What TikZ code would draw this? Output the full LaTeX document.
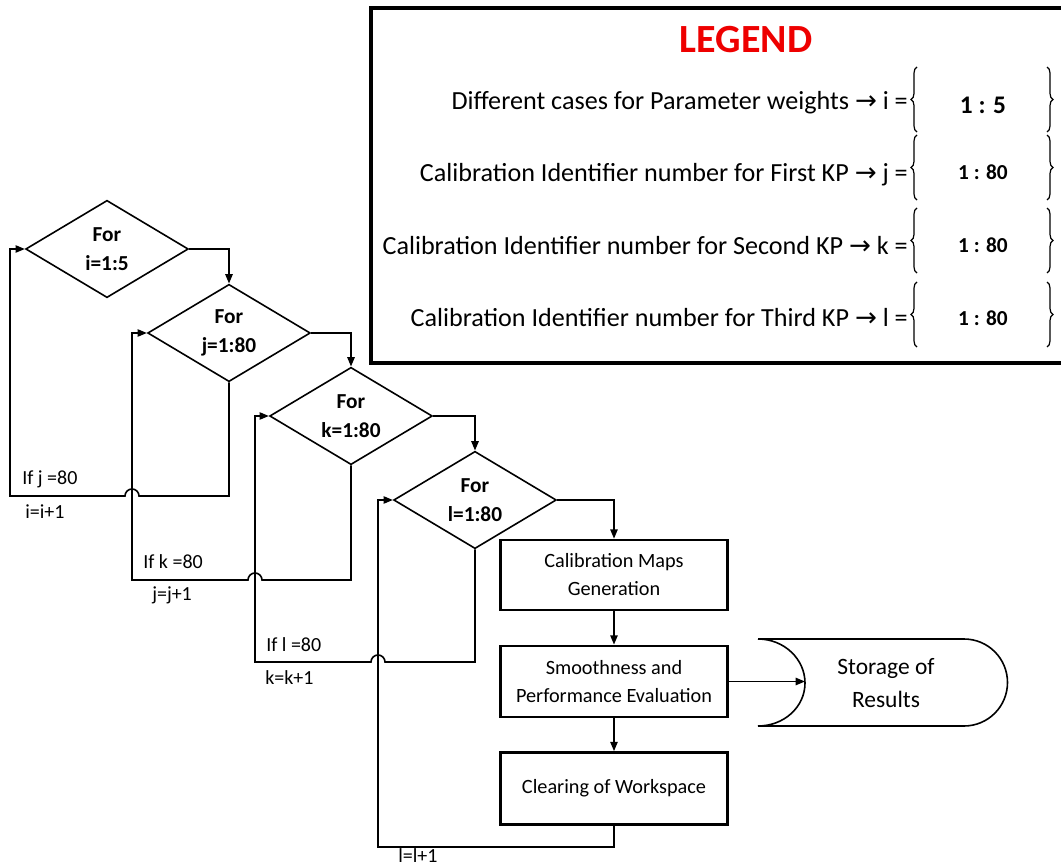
\documentclass[tikz,border=0pt]{standalone}
\usepackage{fontspec}
\setmainfont{Carlito}
\newfontfamily\arrowfont{DejaVu Sans}
\usetikzlibrary{shapes.geometric, arrows.meta, calc, decorations.pathreplacing}
\definecolor{legred}{RGB}{238,0,0}

\tikzset{
    loopbox/.style={diamond, draw, line width=1.2pt, aspect=1.68, minimum width=122pt,
        minimum height=73pt, inner sep=0pt, align=center, font=\bfseries\fontsize{16}{21.5}\selectfont},
    procbox/.style={draw, line width=2pt, minimum width=170pt, align=center,
        font=\fontsize{15.2}{21}\selectfont},
    conn/.style={line width=1.2pt},
    arr/.style={conn, -{Triangle[length=7pt,width=5.5pt]}},
    lbl/.style={anchor=west, inner sep=0pt, font=\fontsize{15}{18}\selectfont},
    legrow/.style={anchor=east, inner sep=0pt, font=\fontsize{19.6}{24}\selectfont},
    legval/.style={font=\bfseries\fontsize{16}{19}\selectfont},
    brace/.style={decorate, decoration={brace, amplitude=4.5pt}, line width=0.9pt}
}

\begin{document}
\begin{tikzpicture}[x=0.75pt, y=-0.75pt]
    \useasboundingbox (0,0) rectangle (1061,866);

    % Nested for loops
    \node[loopbox] (d1) at (107,249) {For\\i=1:5};
    \node[loopbox] (d2) at (229,333) {For\\j=1:80};
    \node[loopbox] (d3) at (351,416) {For\\k=1:80};
    \node[loopbox] (d4) at (475,500) {For\\l=1:80};

    % Body of the innermost loop
    \node[procbox, minimum height=52.5pt] (b1) at (614,575) {Calibration Maps\\Generation};
    \node[procbox, minimum height=53.3pt] (b2) at (614,681.5) {Smoothness and\\Performance Evaluation};
    \node[procbox, minimum height=54pt] (b3) at (614,788.5) {Clearing of Workspace};

    % Stored data
    \draw[conn] (758,639) -- (964,639) arc[start angle=-90, end angle=90, radius=43.5] -- (758,726)
        .. controls (784,726) and (805,707) .. (805,683)
        .. controls (805,659) and (784,639) .. (758,639);
    \coordinate (storein) at (805,683);
    \node[font=\fontsize{17.6}{25}\selectfont, align=center] (store) at (886,683) {Storage of\\Results};

    % Forward flow
    \draw[arr] (d1.east) -| (d2.north);
    \draw[arr] (d2.east) -| (d3.north);
    \draw[arr] (d3.east) -| (d4.north);
    \draw[arr] (d4.east) -| (b1.north);
    \draw[arr] (b1.south) -- (b2.north);
    \draw[arr] (b2.south) -- (b3.north);
    \draw[arr] (b2.east) -- (b2.east -| storein);

    % Return paths (hop over the crossing line)
    \coordinate (hopi) at (132,496);  \coordinate (ifoot) at (10,496);
    \coordinate (hopj) at (255,580);  \coordinate (jfoot) at (132,580);
    \coordinate (hopk) at (378,662);  \coordinate (kfoot) at (255,662);
    \coordinate (lfoot) at (378,847);
    \draw[arr] (d2.south) |- ($(hopi)+(7,0)$) arc[start angle=0, end angle=-180, radius=7] -- (ifoot) |- (d1.west);
    \draw[arr] (d3.south) |- ($(hopj)+(7,0)$) arc[start angle=0, end angle=-180, radius=7] -- (jfoot) |- (d2.west);
    \draw[arr] (d4.south) |- ($(hopk)+(7,0)$) arc[start angle=0, end angle=-180, radius=7] -- (kfoot) |- (d3.west);
    \draw[arr] (b3.south) |- (lfoot) |- (d4.west);

    \node[lbl] (ifj) at (22,479) {If j =80};
    \node[lbl] (inci) at (25,512) {i=i+1};
    \node[lbl] (ifk) at (143,562) {If k =80};
    \node[lbl] (incj) at (152,595) {j=j+1};
    \node[lbl] (ifl) at (266,645) {If l =80};
    \node[lbl] (inck) at (265,678) {k=k+1};
    \node[lbl] (incl) at (398,856) {l=l+1};

    % Legend
    \draw[line width=2.6pt] (1064,8) -| (371,363) -- (1064,363);
    \node[font=\bfseries\fontsize{30}{36}\selectfont, text=legred] (legtitle) at (746,40) {LEGEND};
    \node[legrow] (rowi) at (908,103) {Different cases for Parameter weights {\arrowfont →} i =};
    \node[legrow] (rowj) at (908,175) {Calibration Identifier number for First KP {\arrowfont →} j =};
    \node[legrow] (rowk) at (908,246) {Calibration Identifier number for Second KP {\arrowfont →} k =};
    \node[legrow] (rowl) at (908,318) {Calibration Identifier number for Third KP {\arrowfont →} l =};
    \node[font=\bfseries\fontsize{19}{22}\selectfont] (vali) at (983,105) {1 : 5};
    \node[legval] (valj) at (983,172) {1 : 80};
    \node[legval] (valk) at (983,245) {1 : 80};
    \node[legval] (vall) at (983,318) {1 : 80};
    \foreach \top/\bot in {67/132, 135/200, 208/273, 282/347} {
        \draw[brace] (917,\bot) -- (917,\top);
        \draw[brace] (1047,\top) -- (1047,\bot);
    }
\end{tikzpicture}
\end{document}
